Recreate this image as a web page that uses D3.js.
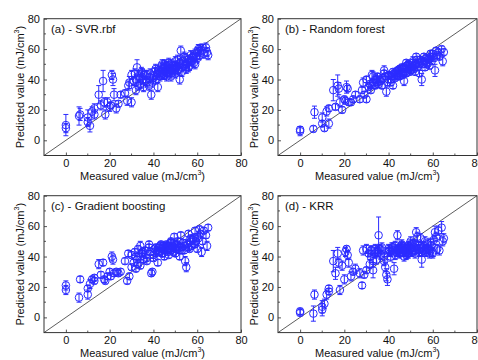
<!DOCTYPE html>
<html>
<head>
<meta charset="utf-8">
<script src="https://cdn.jsdelivr.net/npm/d3@7"></script>
<style>
  body { margin: 0; background: #fff; }
  svg { font-family: "Liberation Sans", Arial, sans-serif; }
  .tick-label { font-size: 11px; fill: #111; }
  .title { font-size: 11px; fill: #111; }
  .plabel { font-size: 11.5px; fill: #111; }
</style>
</head>
<body>
<div id="chart"></div>
<script>
// Measured values (shared x for all four models)
const measured = [0, 0, 6, 6.5, 10, 10, 11, 12, 13, 13, 15, 16, 17, 17.5, 18, 19, 20, 20.5, 21, 21.5,
  22, 23, 24, 25, 27, 28, 28.5, 29, 30, 30, 31, 31.5, 32, 32.5, 33, 33, 34, 34.5, 35, 35.5,
  36, 36.5, 37, 38, 38.5, 39, 39.5, 40, 40.5, 41, 41.5, 42, 42.5, 43, 43.5, 44, 44.5, 45, 45, 45.5,
  46, 46.5, 47, 47, 47.5, 48, 48, 48.5, 49, 49.5, 50, 50, 50.5, 51, 51.5, 52, 52, 52.5, 53, 53.5,
  54, 54.5, 55, 55.5, 56, 56.5, 57, 57.5, 58, 58.5, 59, 59.5, 60, 60.5, 61, 61.5, 62, 62.5, 63, 64,
  64.5, 65,
  32, 34, 35, 37, 38, 40, 41, 42, 43, 44, 45, 46, 47, 48, 49, 50, 51, 52, 53, 54,
  55, 56, 57, 58, 59, 60, 46, 50, 44, 48];

// (a) SVR.rbf
const predSVR = [10, 8, 16, 17, 15, 12, 9.5, 19, 21, 17, 30, 23, 39, 25, 17, 25, 22, 23, 43, 40,
  30, 21, 24, 30, 31, 26, 36, 38, 25, 43, 39, 44, 33, 48, 36, 42, 37, 45, 40, 35,
  43, 39, 38, 41, 44, 30, 38, 42, 45, 40, 43, 35, 46, 42, 48, 44, 47, 50, 43, 46,
  49, 44, 51, 47, 45, 50, 42, 47, 49, 46, 52, 44, 48, 53, 47, 50, 40, 59, 45, 52,
  49, 54, 47, 51, 53, 49, 56, 52, 54, 51, 57, 55, 58, 60, 56, 61, 59, 61, 57, 61,
  58, 56,
  40, 41, 44, 43, 36, 41, 47, 44, 45, 43, 48, 45, 49, 44, 47, 49, 46, 51, 48, 55,
  50, 48, 52, 55, 50, 54, 42, 47, 50, 46];
const errSVR = [7, 3, 6, 4, 5, 3, 4, 3, 3, 3, 6, 3, 7, 3, 3, 3, 3, 2, 3, 4,
  4, 3, 2, 2, 2, 3, 3, 4, 3, 3, 3, 3, 3, 5, 3, 4, 3, 3, 3, 3,
  3, 3, 3, 3, 3, 3, 3, 3, 3, 3, 3, 3, 3, 3, 3, 3, 3, 3, 3, 3,
  3, 3, 3, 3, 3, 3, 3, 3, 3, 3, 3, 3, 3, 3, 3, 3, 3, 3, 3, 3,
  3, 3, 3, 3, 3, 3, 3, 3, 3, 3, 3, 3, 3, 3, 3, 2, 3, 2, 3, 3,
  3, 3,
  3, 4, 3, 3, 3, 4, 3, 3, 3, 3, 3, 3, 3, 3, 3, 3, 3, 3, 3, 3,
  3, 3, 3, 3, 3, 3, 3, 3, 3, 3];

// (b) Random forest
const predRF = [6, 7, 7.5, 18.5, 15, 11, 8, 19, 11, 21, 33, 22, 36, 34, 25, 20, 27, 26, 35, 34,
  25, 25, 27, 30, 27, 33, 38, 30, 27, 40, 35, 37, 33, 43, 38, 42, 36, 40, 42, 37,
  40, 39, 36, 46, 42, 32, 38, 40, 43, 38, 42, 36, 44, 41, 45, 43, 46, 47, 42, 44,
  47, 43, 48, 39, 45, 49, 44, 47, 50, 45, 49, 46, 48, 51, 47, 50, 45, 55, 48, 51,
  44, 53, 40, 50, 52, 48, 54, 50, 53, 49, 55, 52, 57, 54, 46, 59, 56, 58, 55, 60,
  52, 58,
  36, 40, 38, 41, 44, 43, 40, 45, 43, 46, 44, 48, 45, 47, 50, 48, 52, 49, 53, 50,
  52, 55, 51, 54, 57, 55, 45, 46, 42, 51];
const errRF = [3, 2, 2, 4, 3, 2, 2, 3, 3, 2, 7, 2, 7, 4, 3, 2, 2, 2, 4, 2,
  2, 2, 2, 2, 2, 2, 3, 2, 2, 2, 2, 2, 2, 3, 2, 3, 2, 2, 2, 2,
  2, 2, 2, 3, 2, 3, 2, 2, 2, 2, 2, 2, 2, 2, 2, 2, 2, 2, 2, 2,
  2, 2, 2, 3, 2, 2, 2, 2, 2, 2, 2, 2, 2, 2, 2, 2, 2, 2, 2, 2,
  2, 2, 4, 2, 2, 2, 2, 2, 2, 2, 2, 2, 2, 2, 4, 2, 2, 2, 2, 2,
  3, 2,
  2, 3, 2, 2, 2, 2, 2, 2, 2, 2, 2, 2, 2, 2, 2, 2, 3, 2, 2, 2,
  2, 2, 2, 2, 2, 2, 2, 2, 2, 2];

// (c) Gradient boosting
const predGB = [21, 18, 13, 25, 15, 19, 22, 25, 26, 24, 35, 28, 36, 25, 24, 27, 30, 27, 40, 38,
  29, 30, 29, 30, 37, 24, 42, 27, 33, 41, 36, 43, 32, 38, 45, 35, 47, 40, 43, 38,
  44, 41, 37, 48, 43, 29, 30, 39, 45, 42, 44, 36, 46, 43, 48, 45, 47, 44, 40, 46,
  48, 43, 47, 41, 45, 49, 44, 47, 46, 53, 48, 42, 45, 50, 47, 44, 40, 54, 46, 49,
  44, 37, 33, 48, 55, 45, 50, 47, 52, 48, 57, 50, 45, 52, 58, 55, 43, 50, 57, 54,
  47, 59,
  40, 34, 42, 39, 46, 41, 46, 43, 47, 42, 46, 44, 45, 49, 43, 46, 48, 46, 44, 47,
  49, 46, 52, 51, 48, 53, 47, 45, 42, 50];
const errGB = [3, 3, 3, 2, 3, 2, 3, 2, 2, 2, 3, 2, 2, 2, 2, 2, 2, 2, 3, 3,
  2, 2, 2, 2, 2, 2, 2, 2, 2, 2, 2, 2, 2, 2, 2, 2, 3, 2, 2, 2,
  2, 2, 2, 2, 2, 2, 2, 2, 2, 2, 2, 2, 2, 2, 2, 2, 2, 2, 2, 2,
  2, 2, 2, 2, 2, 2, 2, 2, 2, 2, 2, 2, 2, 2, 2, 2, 2, 2, 2, 2,
  2, 3, 3, 2, 2, 2, 2, 2, 2, 2, 2, 2, 2, 2, 2, 2, 3, 2, 2, 2,
  3, 2,
  2, 2, 2, 2, 2, 2, 2, 2, 2, 2, 2, 2, 2, 2, 2, 2, 2, 2, 2, 2,
  2, 2, 2, 2, 2, 2, 2, 2, 2, 2];

// (d) KRR
const predKRR = [4, 3, 2.5, 15, 7, 5, 9, 15, 19, 17, 37, 29, 42, 36, 18, 34, 25, 43, 45, 41,
  36, 27, 30, 32, 29, 21, 44, 28, 31, 45, 42, 35, 40, 44, 31, 37, 45, 38, 44, 54,
  45, 41, 44, 37, 33, 28, 25, 43, 44, 40, 46, 44, 32, 47, 43, 54, 44, 45, 42, 46,
  48, 43, 44, 40, 46, 45, 43, 42, 47, 44, 50, 45, 43, 48, 46, 44, 42, 56, 45, 47,
  43, 52, 38, 46, 44, 50, 43, 48, 45, 42, 44, 47, 43, 51, 56, 53, 45, 57, 44, 59,
  50, 52,
  44, 42, 43, 46, 40, 45, 43, 46, 41, 45, 43, 47, 44, 45, 42, 46, 44, 48, 53, 45,
  43, 47, 45, 44, 49, 42, 46, 48, 44, 41];
const errKRR = [2, 2, 5, 3, 4, 4, 3, 3, 2, 2, 7, 4, 4, 3, 3, 3, 3, 3, 2, 3,
  3, 3, 2, 3, 3, 2, 3, 2, 2, 3, 2, 3, 4, 3, 5, 4, 3, 3, 3, 12,
  3, 3, 3, 3, 3, 4, 4, 3, 3, 3, 3, 3, 4, 3, 3, 3, 3, 3, 3, 3,
  3, 3, 3, 3, 3, 3, 3, 3, 3, 3, 3, 3, 3, 3, 3, 3, 3, 3, 3, 3,
  3, 3, 5, 3, 3, 3, 3, 3, 3, 3, 3, 3, 3, 3, 4, 3, 3, 3, 3, 4,
  3, 3,
  3, 3, 3, 3, 3, 3, 3, 3, 3, 3, 3, 3, 3, 3, 3, 3, 3, 3, 3, 3,
  3, 3, 3, 3, 3, 3, 3, 3, 3, 3];

const panelLabels = ["(a) - SVR.rbf", "(b) - Random forest", "(c) - Gradient boosting", "(d) - KRR"];
const tickValues = [0, 20, 40, 60, 80];

const W = 478, H = 360;
const blue = "#2b2bff";

const svg = d3.select("#chart").append("svg")
  .attr("width", W)
  .attr("height", H);

// panel boxes in pixels
const boxes = [
  { left: 44, right: 241, top: 18.7, bottom: 155.5 },
  { left: 278, right: 477, top: 18.7, bottom: 155.5 },
  { left: 44, right: 241, top: 195.7, bottom: 332.6 },
  { left: 278, right: 477, top: 195.7, bottom: 332.6 }
];
const preds = [predSVR, predRF, predGB, predKRR];
const errs = [errSVR, errRF, errGB, errKRR];

boxes.forEach((b, k) => {
  const x = d3.scaleLinear().domain([-10, 80]).range([b.left, b.right]);
  const y = d3.scaleLinear().domain([-10, 80]).range([b.bottom, b.top]);
  const g = svg.append("g");

  // axes with inward ticks
  const xAxis = d3.axisBottom(x).tickValues(tickValues).tickSize(-3).tickPadding(4);
  const yAxis = d3.axisLeft(y).tickValues(tickValues).tickSize(-3).tickPadding(4);

  const gx = g.append("g").attr("transform", `translate(0,${b.bottom})`).call(xAxis);
  const gy = g.append("g").attr("transform", `translate(${b.left},0)`).call(yAxis);
  [gx, gy].forEach(a => {
    a.select(".domain").remove();
    a.selectAll("line").attr("stroke", "#555");
    a.selectAll("text").attr("class", "tick-label").style("font-size", "11px")
      .style("font-family", "'Liberation Sans', Arial, sans-serif");
  });

  // minor ticks at odd tens
  const minor = [10, 30, 50, 70];
  g.selectAll(".mx").data(minor).enter().append("line")
    .attr("x1", d => x(d)).attr("x2", d => x(d))
    .attr("y1", b.bottom).attr("y2", b.bottom - 2)
    .attr("stroke", "#555");
  g.selectAll(".my").data(minor).enter().append("line")
    .attr("x1", b.left).attr("x2", b.left + 2)
    .attr("y1", d => y(d)).attr("y2", d => y(d))
    .attr("stroke", "#555");

  // frame
  g.append("rect")
    .attr("x", b.left).attr("y", b.top)
    .attr("width", b.right - b.left).attr("height", b.bottom - b.top)
    .attr("fill", "none").attr("stroke", "#333").attr("stroke-width", 1);

  // y = x line
  g.append("line")
    .attr("x1", x(-10)).attr("y1", y(-10))
    .attr("x2", x(80)).attr("y2", y(80))
    .attr("stroke", "#333").attr("stroke-width", 0.8);

  // data
  const data = measured.map((m, i) => ({ m, p: preds[k][i], e: errs[k][i] }));
  const pts = g.append("g").attr("stroke", blue).attr("fill", "none").attr("stroke-width", 1);
  pts.selectAll(".eb").data(data).enter().append("path")
    .attr("d", d => {
      const cx = x(d.m), y1 = y(d.p - d.e), y2 = y(d.p + d.e);
      return `M${cx},${y1}V${y2}M${cx - 2.5},${y1}H${cx + 2.5}M${cx - 2.5},${y2}H${cx + 2.5}`;
    });
  pts.selectAll("circle").data(data).enter().append("circle")
    .attr("cx", d => x(d.m))
    .attr("cy", d => y(d.p))
    .attr("r", 3.8);

  // panel label
  g.append("text").attr("class", "plabel")
    .attr("x", b.left + 7).attr("y", b.top + 14)
    .text(panelLabels[k]);

  // x title
  const xt = g.append("text").attr("class", "title")
    .attr("x", (b.left + b.right) / 2).attr("y", b.bottom + 24.5)
    .attr("text-anchor", "middle");
  xt.append("tspan").text("Measured value (mJ/cm");
  xt.append("tspan").attr("dy", -5).style("font-size", "7px").text("3");
  xt.append("tspan").attr("dy", 5).text(")");

  // y title
  const yt = g.append("text").attr("class", "title")
    .attr("transform", `translate(${b.left - 20},${(b.top + b.bottom) / 2}) rotate(-90)`)
    .attr("text-anchor", "middle");
  yt.append("tspan").text("Predicted value (mJ/cm");
  yt.append("tspan").attr("dy", -5).style("font-size", "7px").text("3");
  yt.append("tspan").attr("dy", 5).text(")");
});
</script>
</body>
</html>
